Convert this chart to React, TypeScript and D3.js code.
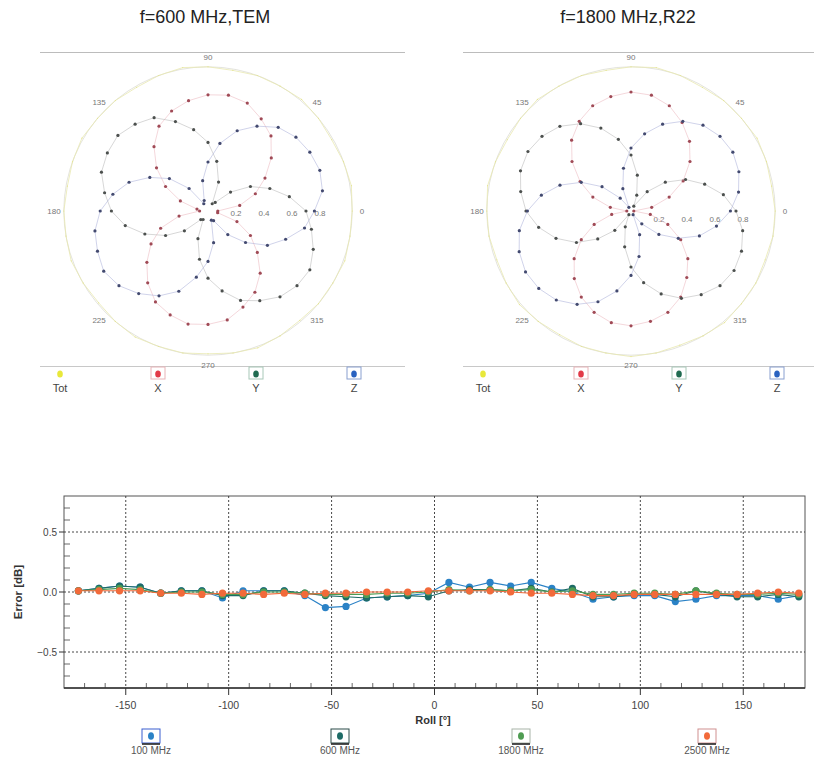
import React from "react";
import * as d3 from "d3";

// ---------- polar data (roll angle in degrees, normalised component amplitude) ----------
const polarAngles = [0,10,20,30,40,50,60,70,80,90,100,110,120,130,140,150,160,170,180,190,200,210,220,230,240,250,260,270,280,290,300,310,320,330,340,350];

const leftTot = [1.03,1.04,1.03,1.02,1.03,1.04,1.03,1.03,1.02,1.03,1.04,1.03,1.02,1.03,1.03,1.04,1.03,1.02,1.03,1.03,1.04,1.03,1.02,1.03,1.04,1.03,1.03,1.02,1.03,1.04,1.03,1.02,1.03,1.03,1.04,1.03];
const leftX = [0.07,0.23,0.36,0.47,0.59,0.70,0.76,0.82,0.84,0.83,0.80,0.76,0.70,0.60,0.48,0.35,0.21,0.08,0.06,0.21,0.36,0.47,0.57,0.67,0.75,0.79,0.82,0.81,0.79,0.73,0.67,0.58,0.46,0.35,0.22,0.07];
const leftY = [0.70,0.59,0.47,0.35,0.21,0.08,0.06,0.22,0.36,0.49,0.59,0.68,0.77,0.81,0.84,0.83,0.81,0.75,0.69,0.60,0.48,0.35,0.22,0.08,0.07,0.21,0.35,0.48,0.58,0.68,0.74,0.80,0.83,0.84,0.80,0.75];
const leftZ = [0.76,0.83,0.85,0.84,0.82,0.78,0.70,0.61,0.49,0.35,0.22,0.08,0.06,0.21,0.36,0.48,0.60,0.69,0.77,0.82,0.84,0.86,0.83,0.77,0.70,0.61,0.48,0.36,0.23,0.07,0.08,0.22,0.35,0.49,0.59,0.70];

const rightTot = [1.03,1.02,1.03,1.04,1.03,1.03,1.02,1.03,1.04,1.03,1.02,1.03,1.03,1.04,1.03,1.02,1.03,1.04,1.03,1.03,1.02,1.03,1.04,1.03,1.02,1.03,1.03,1.04,1.03,1.02,1.03,1.04,1.03,1.03,1.02,1.03];
const rightX = [0.02,0.15,0.29,0.43,0.55,0.65,0.73,0.80,0.84,0.85,0.83,0.80,0.74,0.66,0.55,0.42,0.29,0.15,0.03,0.14,0.28,0.41,0.53,0.63,0.71,0.77,0.81,0.82,0.80,0.77,0.71,0.62,0.53,0.41,0.28,0.14];
const rightY = [0.75,0.67,0.56,0.45,0.32,0.18,0.04,0.12,0.26,0.40,0.52,0.63,0.72,0.79,0.83,0.85,0.84,0.80,0.75,0.67,0.57,0.45,0.31,0.18,0.03,0.12,0.26,0.40,0.52,0.63,0.72,0.78,0.83,0.85,0.84,0.81];
const rightZ = [0.71,0.78,0.82,0.84,0.83,0.80,0.74,0.66,0.56,0.45,0.31,0.17,0.03,0.12,0.27,0.41,0.54,0.65,0.74,0.81,0.85,0.87,0.86,0.83,0.77,0.69,0.58,0.46,0.33,0.18,0.03,0.12,0.26,0.39,0.52,0.62];

const angleTickLabels = [0,45,90,135,180,225,270,315];
const radialTickLabels = [0.2,0.4,0.6,0.8];
const polarLegend = ["Tot","X","Y","Z"];

// ---------- roll error data ----------
const rollAngles = [-173,-163,-153,-143,-133,-123,-113,-103,-93,-83,-73,-63,-53,-43,-33,-23,-13,-3,7,17,27,37,47,57,67,77,87,97,107,117,127,137,147,157,167,177];
const err100 = [0.01,0.03,0.05,0.04,-0.01,0.01,0.01,-0.05,0.01,0.01,0.01,-0.03,-0.13,-0.12,-0.05,-0.04,-0.03,-0.01,0.08,0.04,0.08,0.05,0.08,0.03,0.0,-0.06,-0.04,-0.03,-0.03,-0.08,-0.06,-0.03,-0.03,-0.03,-0.06,-0.03];
const err600 = [0.01,0.03,0.05,0.04,-0.01,0.01,0.01,-0.03,-0.03,0.01,0.01,-0.01,-0.03,-0.04,-0.05,-0.04,-0.03,-0.04,0.01,0.02,0.02,0.01,0.03,0.0,0.03,-0.04,-0.04,-0.02,-0.02,-0.04,0.01,-0.02,-0.04,-0.04,-0.02,-0.04];
const err1800 = [0.01,0.02,0.03,0.02,-0.01,0.0,0.0,-0.02,-0.02,0.0,0.0,-0.01,-0.02,-0.02,-0.02,-0.01,-0.01,0.0,0.02,0.01,0.02,0.01,0.02,0.0,0.01,-0.02,-0.02,-0.01,-0.01,-0.02,0.01,-0.01,-0.02,-0.02,-0.01,-0.02];
const err2500 = [0.01,0.01,0.01,0.01,-0.01,-0.01,-0.02,-0.01,-0.01,-0.02,-0.01,-0.02,-0.01,-0.01,0.0,0.0,0.0,0.01,0.01,0.01,0.01,0.0,-0.01,-0.01,-0.02,-0.03,-0.03,-0.02,-0.02,-0.02,-0.02,-0.02,-0.02,-0.01,0.0,-0.01];
const rollLegend = ["100 MHz","600 MHz","1800 MHz","2500 MHz"];
const xTicks = [-150,-100,-50,0,50,100,150];
const yTicks = [-0.5,0,0.5];

const FONT = "Arial, 'Liberation Sans', sans-serif";

const polarStyles = [
  { line: "#e8e8b0", marker: "#e4e490", w: 0.8, mr: 0.6 },
  { line: "#ecbcc2", marker: "#a04a56", w: 0.6, mr: 1.6 },
  { line: "#bcbcbc", marker: "#4c504e", w: 0.6, mr: 1.6 },
  { line: "#b0b6dc", marker: "#434a70", w: 0.6, mr: 1.6 },
];
const legendDot = ["#e8e83a", "#e23a48", "#1f6b50", "#2a62c0"];
const legendBox = [null, "#e8b4b8", "#a8c8b8", "#8aa0d0"];

function Polar({ cx, cy, title, series, labelDy }: any) {
  const r = d3.scaleLinear().domain([0, 1]).range([0, 140]);
  const px = (a: number, v: number) => cx + r(v) * Math.cos((a * Math.PI) / 180);
  const py = (a: number, v: number) => cy - r(v) * Math.sin((a * Math.PI) / 180);
  const line = d3
    .line<number>()
    .x((v, i) => px(polarAngles[i], v))
    .y((v, i) => py(polarAngles[i], v))
    .curve(d3.curveLinearClosed);
  return (
    <g>
      <text x={cx - 3} y={23} textAnchor="middle" fontFamily={FONT} fontSize={18} fill="#222">{title}</text>
      <line x1={cx - 168} x2={cx + 197} y1={52.5} y2={52.5} stroke="#bcbcbc" strokeWidth={1.1} />
      <line x1={cx - 168} x2={cx + 197} y1={366.5} y2={366.5} stroke="#c8c8c8" strokeWidth={1.1} />
      <circle cx={cx} cy={cy} r={r(1.03)} fill="none" stroke="#dcdcd4" strokeWidth={0.8} />
      {angleTickLabels.map((a) => (
        <text key={a} x={px(a, 1.1)} y={py(a, 1.1) + 3} textAnchor="middle" fontFamily={FONT} fontSize={8} fill="#777">{a}</text>
      ))}
      {radialTickLabels.map((v) => (
        <text key={v} x={px(0, v)} y={cy + labelDy} textAnchor="middle" fontFamily={FONT} fontSize={8} fill="#777">{v}</text>
      ))}
      {series.map((s: number[], k: number) => (
        <g key={k}>
          <path d={line(s) || ""} fill="none" stroke={polarStyles[k].line} strokeWidth={polarStyles[k].w} />
          {s.map((v, i) => (
            <circle key={i} cx={px(polarAngles[i], v)} cy={py(polarAngles[i], v)} r={polarStyles[k].mr} fill={polarStyles[k].marker} />
          ))}
        </g>
      ))}
      {polarLegend.map((name, k) => {
        const lx = cx - 148 + k * 98;
        return (
          <g key={name}>
            {legendBox[k] && (
              <rect x={lx - 7} y={367} width={14} height={12} fill="#fff" stroke={legendBox[k] as string} strokeWidth={1} />
            )}
            <ellipse cx={lx} cy={374} rx={2.8} ry={3.6} fill={legendDot[k]} />
            <text x={lx} y={392} textAnchor="middle" fontFamily={FONT} fontSize={11} fill="#444">{name}</text>
          </g>
        );
      })}
    </g>
  );
}

const rollColors = ["#2b82c6", "#1e6b66", "#4f9c52", "#f26a3a"];
const rollBoxColors = ["#3a5ed0", "#2b4a48", "#a8b4a8", "#d09090"];

function RollChart() {
  const L = 64, R = 805, T = 496, B = 688;
  const x = d3.scaleLinear().domain([-180, 180]).range([L, R]);
  const y = d3.scaleLinear().domain([-0.8, 0.8]).range([B, T]);
  const series = [err100, err600, err1800, err2500];
  const line = d3
    .line<number>()
    .x((v, i) => x(rollAngles[i]))
    .y((v) => y(v));
  const minorX = d3.range(-170, 180, 10).filter((v) => v % 50 !== 0);
  const minorY = d3.range(-7, 8, 1).map((v) => v / 10).filter((v) => Math.abs(v % 0.5) > 0.01);
  const legendX = [151, 340, 521, 707];
  return (
    <g>
      <rect x={L} y={T} width={R - L} height={B - T} fill="#fff" stroke="#555" strokeWidth={1} />
      {xTicks.map((t) => (
        <line key={t} x1={x(t)} x2={x(t)} y1={T} y2={B} stroke="#333" strokeWidth={0.9} strokeDasharray="2,2" />
      ))}
      {yTicks.map((t) => (
        <line key={t} x1={L} x2={R} y1={y(t)} y2={y(t)} stroke="#333" strokeWidth={0.9} strokeDasharray="2,2" />
      ))}
      {minorX.map((t) => (
        <line key={t} x1={x(t)} x2={x(t)} y1={B} y2={B - 5} stroke="#444" strokeWidth={0.8} />
      ))}
      {minorY.map((t) => (
        <line key={t} x1={L} x2={L + 6} y1={y(t)} y2={y(t)} stroke="#444" strokeWidth={0.8} />
      ))}
      {xTicks.map((t) => (
        <g key={t}>
          <line x1={x(t)} x2={x(t)} y1={B} y2={B + 7} stroke="#333" strokeWidth={1} />
          <text x={x(t)} y={709} textAnchor="middle" fontFamily={FONT} fontSize={10.5} fill="#444">{t}</text>
        </g>
      ))}
      {yTicks.map((t) => (
        <g key={t}>
          <line x1={L - 5} x2={L} y1={y(t)} y2={y(t)} stroke="#333" strokeWidth={1} />
          <text x={L - 7} y={y(t) + 3.5} textAnchor="end" fontFamily={FONT} fontSize={10} fill="#444">{d3.format(".1f")(t)}</text>
        </g>
      ))}
      <line x1={L} x2={R} y1={B} y2={B} stroke="#333" strokeWidth={1.4} />
      {series.map((s, k) => (
        <g key={k}>
          <path d={line(s) || ""} fill="none" stroke={rollColors[k]} strokeWidth={1.1} />
          {s.map((v, i) => (
            <circle key={i} cx={x(rollAngles[i])} cy={y(v)} r={3.6} fill={rollColors[k]} />
          ))}
        </g>
      ))}
      <text x={433} y={724} textAnchor="middle" fontFamily={FONT} fontSize={11} fontWeight="bold" fill="#333">Roll [°]</text>
      <text transform={`translate(22,${(T + B) / 2}) rotate(-90)`} textAnchor="middle" fontFamily={FONT} fontSize={11.5} fontWeight="bold" fill="#333">Error [dB]</text>
      {rollLegend.map((name, k) => (
        <g key={name}>
          <rect x={legendX[k] - 9} y={729} width={18} height={14} fill="#fff" stroke={rollBoxColors[k]} strokeWidth={1} />
          <line x1={legendX[k] - 9} x2={legendX[k] + 9} y1={744} y2={744} stroke="#222" strokeWidth={1.6} />
          <ellipse cx={legendX[k]} cy={736} rx={3} ry={3.8} fill={rollColors[k]} />
          <text x={legendX[k]} y={754} textAnchor="middle" fontFamily={FONT} fontSize={10} fill="#555">{name}</text>
        </g>
      ))}
    </g>
  );
}

export default function App() {
  return (
    <svg width={814} height={762} style={{ position: "absolute", left: 0, top: 0, background: "#fff" }}>
      <rect width={814} height={762} fill="#fff" />
      <Polar cx={208} cy={211} title="f=600 MHz,TEM" series={[leftTot, leftX, leftY, leftZ]} labelDy={5} />
      <Polar cx={631} cy={211} title="f=1800 MHz,R22" series={[rightTot, rightX, rightY, rightZ]} labelDy={11} />
      <RollChart />
    </svg>
  );
}
